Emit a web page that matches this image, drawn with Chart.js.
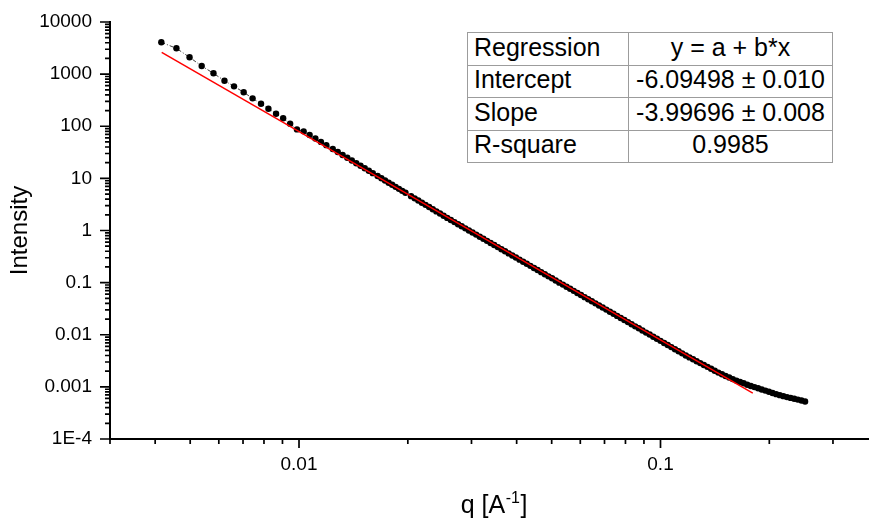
<!DOCTYPE html>
<html>
<head>
<meta charset="utf-8">
<script src="https://cdn.jsdelivr.net/npm/chart.js@4.4.0/dist/chart.umd.min.js"></script>
<style>
html,body{margin:0;padding:0;background:#fff;}
#wrap{position:relative;width:872px;height:519px;overflow:hidden;}
#c{display:block;}
#reg{position:absolute;left:467px;top:32px;border-collapse:collapse;table-layout:fixed;width:365px;
  font-family:"Liberation Sans",Arial,sans-serif;font-size:25px;color:#000;background:#fff;}
#reg td{border:1px solid #9c9c9c;padding:0 0 3px 0;white-space:nowrap;line-height:1.1;}
#reg tr{height:32.6px;}
#reg td.l{text-align:left;padding-left:6px;}
#reg td.c{text-align:center;}
</style>
</head>
<body>
<div id="wrap">
<canvas id="c" width="872" height="519"></canvas>
<table id="reg"><colgroup><col style="width:161px"><col style="width:204px"></colgroup><tbody id="regBody"></tbody></table>
</div>
<script>
// ---- data ----
const qData = [
  0.00416, 0.00458, 0.00498, 0.00538, 0.00580, 0.00622, 0.00661, 0.00703, 0.00744, 0.00785,
  0.00823, 0.00864, 0.00904, 0.00945, 0.00987,
  0.0103, 0.0107, 0.0111, 0.0115, 0.0119, 0.0124, 0.0128, 0.0132, 0.0136, 0.0140,
  0.0144, 0.0148, 0.0152, 0.0156, 0.0160, 0.0165, 0.0169, 0.0173, 0.0177, 0.0181,
  0.0185, 0.0189, 0.0193, 0.0197,
  0.020417, 0.020893, 0.02138, 0.021878, 0.022387, 0.022909, 0.023442, 0.023988, 0.024547, 0.025119,
  0.025704, 0.026303, 0.026915, 0.027542, 0.028184, 0.02884, 0.029512, 0.0302, 0.030903, 0.031623,
  0.032359, 0.033113, 0.033884, 0.034674, 0.035481, 0.036308, 0.037154, 0.038019, 0.038905, 0.039811,
  0.040738, 0.041687, 0.042658, 0.043652, 0.044668, 0.045709, 0.046774, 0.047863, 0.048978, 0.050119,
  0.051286, 0.052481, 0.053703, 0.054954, 0.056234, 0.057544, 0.058884, 0.060256, 0.06166, 0.063096,
  0.064565, 0.066069, 0.067608, 0.069183, 0.070795, 0.072444, 0.074131, 0.075858, 0.077625, 0.079433,
  0.081283, 0.083176, 0.085114, 0.087096, 0.089125, 0.091201, 0.093325, 0.095499, 0.097724, 0.1,
  0.10233, 0.10471, 0.10715, 0.10965, 0.1122, 0.11482, 0.11749, 0.12023, 0.12303, 0.12589,
  0.12882, 0.13183, 0.1349, 0.13804, 0.14125, 0.14454, 0.14791, 0.15136, 0.15488, 0.15849,
  0.16218, 0.16596, 0.16982, 0.17378, 0.17783, 0.18197, 0.18621, 0.19055, 0.19498, 0.19953,
  0.20417, 0.20893, 0.2138, 0.21878, 0.22387, 0.22909, 0.23442, 0.23988, 0.24547, 0.25119
];
const intensityData = [
  4075, 3127, 2101, 1430, 1036, 747, 583, 448, 343, 270,
  217, 174, 142, 112, 87,
  79.9, 68.0, 58.2, 50.1, 43.4, 36.5, 32.0, 28.1, 24.8, 22.0,
  19.55, 17.43, 15.61, 14.0, 12.6, 11.08, 10.03, 9.09, 8.27, 7.53,
  6.87, 6.29, 5.76, 5.29,
  4.56, 4.14, 3.76, 3.416, 3.102, 2.818, 2.561, 2.326, 2.113, 1.92,
  1.745, 1.589, 1.449, 1.322, 1.205, 1.099, 1.003, 0.915, 0.834, 0.761,
  0.694, 0.633, 0.577, 0.526, 0.48, 0.438, 0.399, 0.364, 0.332, 0.303,
  0.276, 0.252, 0.23, 0.21, 0.191, 0.1745, 0.159, 0.145, 0.132, 0.121,
  0.11, 0.1, 0.0916, 0.0836, 0.0762, 0.0695, 0.0634, 0.0578, 0.0527, 0.0481,
  0.0439, 0.04, 0.0365, 0.0333, 0.0304, 0.0277, 0.0253, 0.023, 0.021, 0.0192,
  0.0175, 0.0159, 0.0145, 0.0133, 0.0121, 0.011, 0.0101, 0.00918, 0.00837, 0.00764,
  0.00696, 0.00635, 0.00579, 0.00528, 0.00482, 0.0044, 0.00401, 0.00368, 0.00338, 0.00311,
  0.00286, 0.00263, 0.00242, 0.00222, 0.00204, 0.00188, 0.00175, 0.00162, 0.00151, 0.00141,
  0.00132, 0.00124, 0.00117, 0.0011, 0.00104, 0.000991, 0.000941, 0.000893, 0.000849, 0.000805,
  0.000764, 0.000725, 0.000694, 0.000664, 0.000637, 0.000614, 0.000592, 0.00057, 0.000547, 0.000524
];
const fitQ = [0.00417, 0.18];
const fitI = [2615, 0.00076];

const xMajorTicks = [0.01, 0.1];
const xMajorLabels = ['0.01', '0.1'];
const xMinorTicks = [0.003, 0.004, 0.005, 0.006, 0.007, 0.008, 0.009,
  0.02, 0.03, 0.04, 0.05, 0.06, 0.07, 0.08, 0.09, 0.2, 0.3];
const yMajorTicks = [1e-4, 1e-3, 1e-2, 1e-1, 1, 10, 100, 1000, 10000];
const yMajorLabels = ['1E-4', '0.001', '0.01', '0.1', '1', '10', '100', '1000', '10000'];
const yMinorMultipliers = [2, 3, 4, 5, 6, 7, 8, 9];

const regressionRows = [
  ['Regression', 'y = a + b*x'],
  ['Intercept', '-6.09498 ± 0.010'],
  ['Slope', '-3.99696 ± 0.008'],
  ['R-square', '0.9985']
];
const xTitleParts = ['q [A', '-1', ']'];
const yTitle = 'Intensity';

// ---- build ----
const FONT = "'Liberation Sans', Arial, sans-serif";
Chart.defaults.font.family = FONT;
Chart.defaults.font.size = 19;
Chart.defaults.color = '#000';

const body = document.getElementById('regBody');
regressionRows.forEach(r => {
  const tr = document.createElement('tr');
  const a = document.createElement('td'); a.className = 'l'; a.textContent = r[0];
  const b = document.createElement('td'); b.className = 'c'; b.textContent = r[1];
  tr.appendChild(a); tr.appendChild(b); body.appendChild(tr);
});

const yMinorTicks = [];
yMajorTicks.slice(0, -1).forEach(d => yMinorMultipliers.forEach(m => yMinorTicks.push(d * m)));

const near = (list, v) => list.findIndex(t => Math.abs(t / v - 1) < 1e-6);

const points = qData.map((q, i) => ({x: q, y: intensityData[i]}));
const fitPts = fitQ.map((q, i) => ({x: q, y: fitI[i]}));

const tickMarks = {
  id: 'tickMarks',
  afterDraw(chart) {
    const {ctx, scales: {x, y}, chartArea} = chart;
    ctx.save();
    ctx.strokeStyle = '#000';
    ctx.lineWidth = 1.7;
    ctx.beginPath();
    x.ticks.forEach(t => {
      const px = x.getPixelForValue(t.value);
      const len = near(xMajorTicks, t.value) >= 0 ? 9 : 5;
      ctx.moveTo(px, x.top); ctx.lineTo(px, x.top + len);
    });
    y.ticks.forEach(t => {
      const py = y.getPixelForValue(t.value);
      const len = near(yMajorTicks, t.value) >= 0 ? 10 : 5;
      ctx.moveTo(y.right, py); ctx.lineTo(y.right - len, py);
    });
    ctx.stroke();
    // x axis title with superscript
    ctx.fillStyle = '#000';
    ctx.textBaseline = 'alphabetic';
    ctx.textAlign = 'left';
    const big = '25px ' + FONT, small = '16px ' + FONT;
    ctx.font = big; const w1 = ctx.measureText(xTitleParts[0]).width;
    const w3 = ctx.measureText(xTitleParts[2]).width;
    ctx.font = small; const w2 = ctx.measureText(xTitleParts[1]).width;
    const total = w1 + w2 + w3 + 1;
    const sx = (chartArea.left + chartArea.right) / 2 - total / 2 + 5;
    const base = 513;
    ctx.font = big; ctx.fillText(xTitleParts[0], sx, base);
    ctx.font = small; ctx.fillText(xTitleParts[1], sx + w1 + 0.5, base - 10);
    ctx.font = big; ctx.fillText(xTitleParts[2], sx + w1 + w2 + 1, base);
    ctx.restore();
  }
};

new Chart(document.getElementById('c'), {
  type: 'scatter',
  data: {
    datasets: [
      {
        label: 'fit',
        data: fitPts,
        showLine: true,
        borderColor: '#ff0000',
        borderWidth: 1.5,
        pointRadius: 0,
        order: 0
      },
      {
        label: 'data',
        data: points,
        showLine: true,
        borderColor: '#3c3c3c',
        borderWidth: 1,
        borderDash: [4, 2, 1, 2],
        pointRadius: 3.2,
        pointBorderWidth: 0,
        pointBackgroundColor: '#000',
        order: 1
      }
    ]
  },
  options: {
    responsive: false,
    animation: false,
    devicePixelRatio: 1,
    layout: {padding: {top: 22, right: 0, left: 0, bottom: 0}},
    plugins: {legend: {display: false}, tooltip: {enabled: false}},
    scales: {
      x: {
        type: 'logarithmic',
        min: 0.003,
        max: 0.375,
        afterBuildTicks: s => { s.ticks = xMinorTicks.concat(xMajorTicks).sort((a, b) => a - b).map(v => ({value: v})); },
        afterFit: s => { s.height = 80; },
        grid: {display: false, drawTicks: true, tickLength: 9},
        border: {display: true, color: '#000', width: 2},
        ticks: {
          autoSkip: false, maxRotation: 0, padding: 5, color: '#000',
          font: {size: 19, family: FONT},
          major: {enabled: false},
          callback: v => { const i = near(xMajorTicks, v); return i >= 0 ? xMajorLabels[i] : ''; }
        }
      },
      y: {
        type: 'logarithmic',
        min: 1e-4,
        max: 10000,
        afterBuildTicks: s => { s.ticks = yMinorTicks.concat(yMajorTicks).sort((a, b) => a - b).map(v => ({value: v})); },
        afterFit: s => { s.width = 110; },
        grid: {display: false, drawTicks: true, tickLength: 10},
        border: {display: true, color: '#000', width: 2},
        title: {display: true, text: yTitle, color: '#000', font: {size: 24, family: FONT}, padding: {top: 6, bottom: 0}},
        ticks: {
          autoSkip: false, padding: 8, color: '#000',
          font: {size: 19, family: FONT},
          major: {enabled: false},
          callback: v => { const i = near(yMajorTicks, v); return i >= 0 ? yMajorLabels[i] : ''; }
        }
      }
    }
  },
  plugins: [tickMarks]
});
</script>
</body>
</html>
